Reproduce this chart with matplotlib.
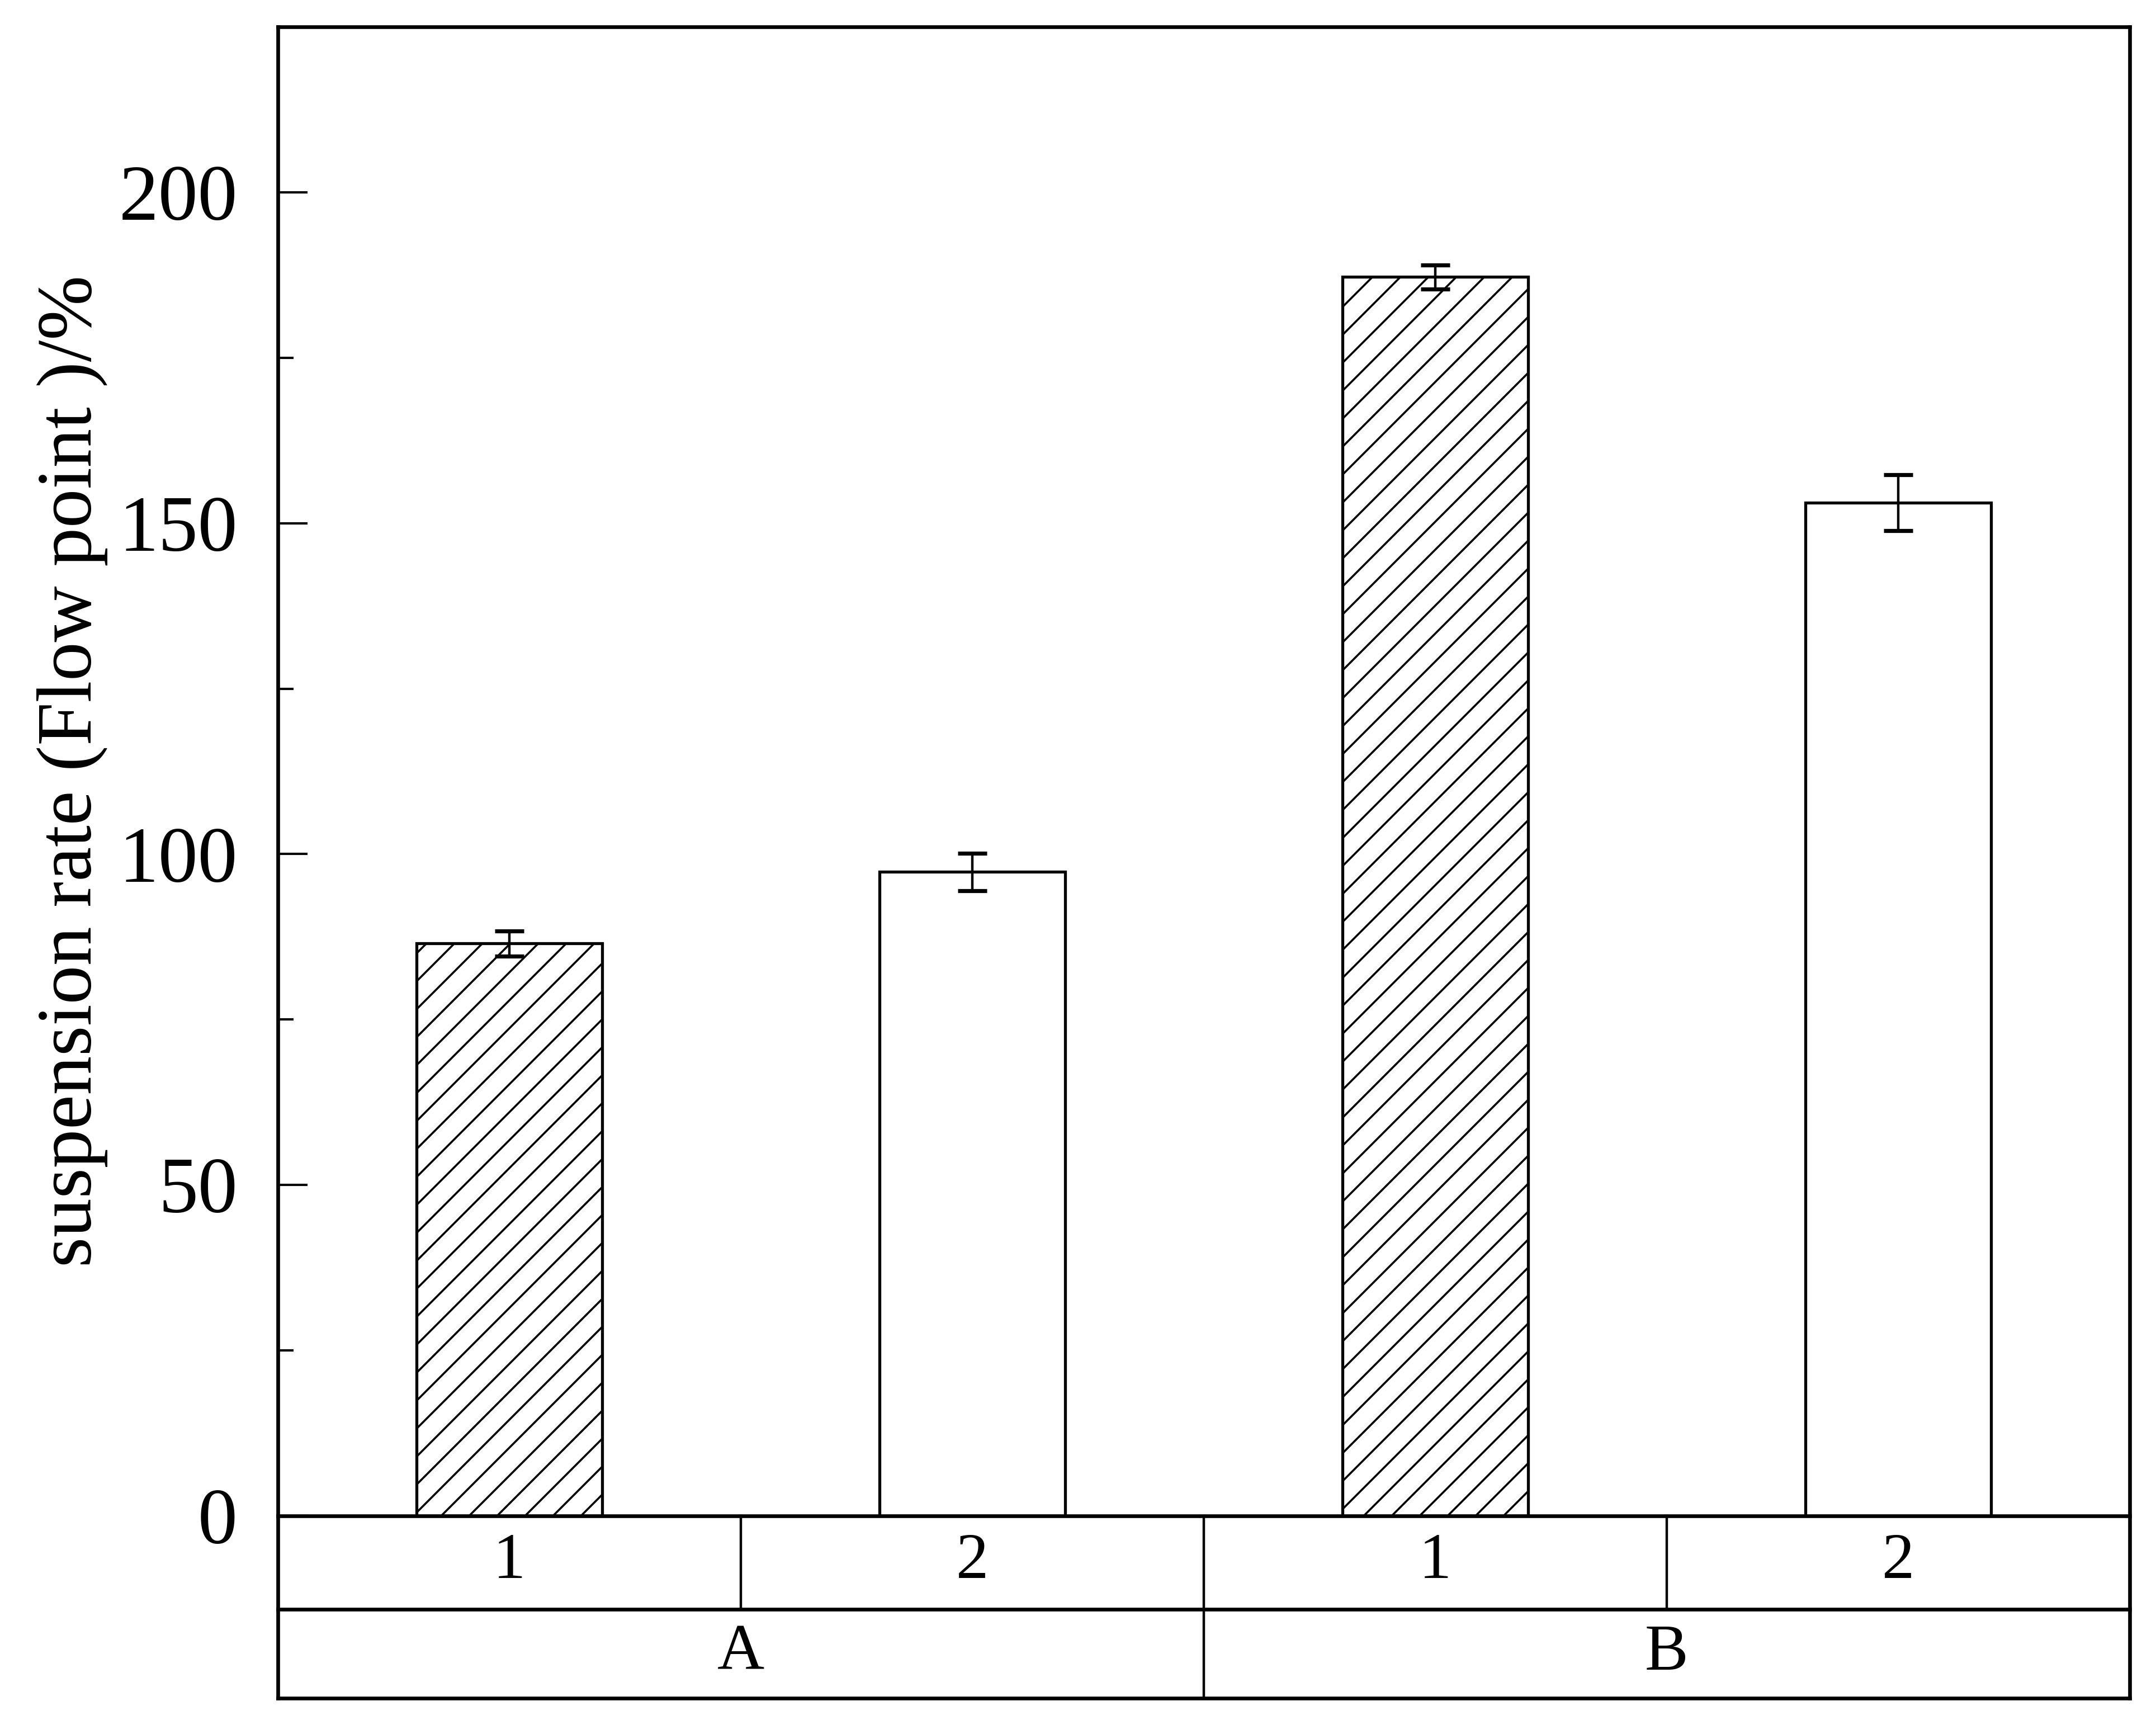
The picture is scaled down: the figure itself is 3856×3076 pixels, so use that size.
import matplotlib
matplotlib.use("Agg")
import matplotlib.pyplot as plt
from matplotlib.ticker import MultipleLocator
import numpy as np

# ---- data ----
groups = ["A", "B"]
subgroups = ["1", "2"]
values = [86.5, 97.3, 187.2, 153.1]
errors = [1.9, 2.8, 1.8, 4.2]
ylabel = "suspension rate (Flow point )/%"
yticks = [0, 50, 100, 150, 200]

W, H = 3856, 3076
dpi = 150
k = 200 / dpi  # size scale so point sizes match the tuned layout

plt.rcParams["font.family"] = ["Liberation Serif", "DejaVu Serif"]
plt.rcParams["hatch.linewidth"] = 1.3 * k

fig = plt.figure(figsize=(W / dpi, H / dpi), dpi=dpi)
L, R, T, B = 497, 3809, 48, 2711
TB = 3037  # bottom of table
ax = fig.add_axes([L / W, 1 - B / H, (R - L) / W, (B - T) / H])

n = len(groups) * len(subgroups)
x = np.arange(n) + 0.5
bars = ax.bar(x, values, width=0.4, color="white", edgecolor="black",
              linewidth=1.9 * k, yerr=errors, capsize=9.5 * k,
              error_kw=dict(elinewidth=1.6 * k, capthick=2.6 * k, ecolor="black"))
labels_sub = [s for g in groups for s in subgroups]
for b, s in zip(bars, labels_sub):
    if s == subgroups[0]:
        b.set_hatch("/")

ax.set_xlim(0, n)
ax.set_ylim(0, 225)
ax.set_yticks(yticks)
ax.yaxis.set_minor_locator(MultipleLocator(25))
ax.tick_params(axis="y", which="major", direction="in", length=19 * k, width=1.5 * k,
               labelsize=51 * k, pad=26 * k, right=False)
ax.tick_params(axis="y", which="minor", direction="in", length=10 * k, width=1.5 * k,
               right=False)
ax.tick_params(axis="x", which="both", bottom=False, top=False, labelbottom=False)
for sp in ax.spines.values():
    sp.set_linewidth(2.4 * k)
ax.set_ylabel(ylabel, fontsize=50 * k, labelpad=7 * k)

# ---- category table below the axes ----
tax = fig.add_axes([L / W, 1 - TB / H, (R - L) / W, (TB - B) / H])
tax.set_xlim(0, n)
tax.set_ylim(0, 1)
tax.axis("off")
mid = (TB - 2878) / (TB - B)
lw_h, lw_v = 2.4 * k, 1.6 * k
tax.plot([0, n], [mid, mid], color="black", lw=lw_h, clip_on=False)
tax.plot([0, n], [0, 0], color="black", lw=lw_h, clip_on=False)
tax.plot([0, 0], [0, 1], color="black", lw=lw_h, clip_on=False)
tax.plot([n, n], [0, 1], color="black", lw=lw_h, clip_on=False)
for i in range(1, n):
    tax.plot([i, i], [mid, 1], color="black", lw=lw_v, clip_on=False)
ns = len(subgroups)
for gi in range(1, len(groups)):
    tax.plot([gi * ns, gi * ns], [0, mid], color="black", lw=lw_v, clip_on=False)
for xi, s in zip(x, labels_sub):
    tax.text(xi, (mid + 1) / 2, s, ha="center", va="center", fontsize=42 * k)
for gi, g in enumerate(groups):
    tax.text(gi * ns + ns / 2, mid / 2, g, ha="center", va="center", fontsize=42 * k)

fig.savefig("out.png", dpi=dpi, facecolor="white")
